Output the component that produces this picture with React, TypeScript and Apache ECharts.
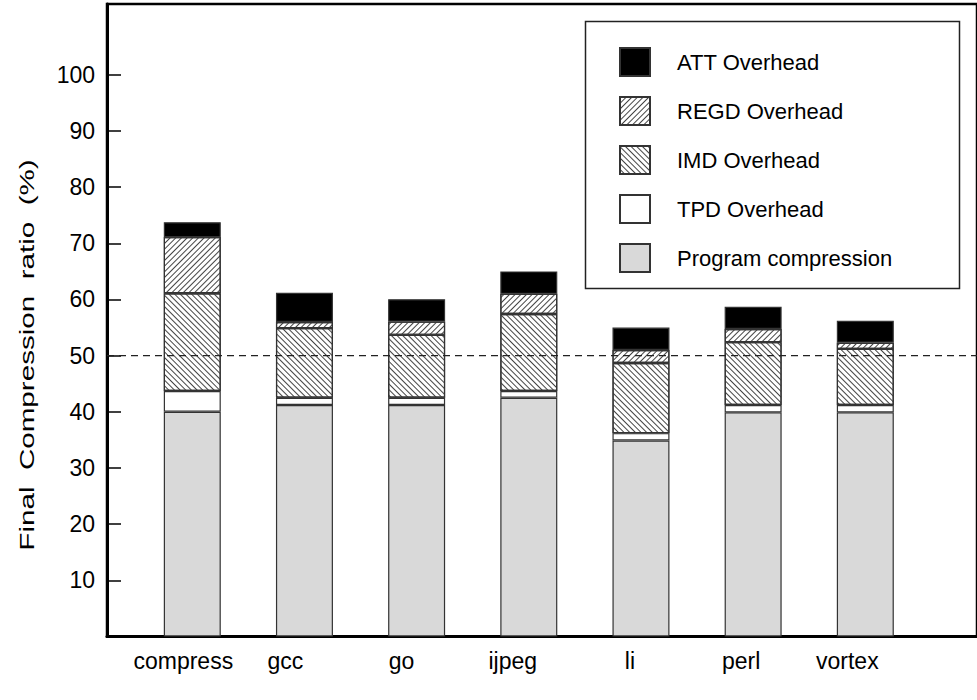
import React, { useEffect, useRef } from "react";
import * as echarts from "echarts";

const categories = ["compress", "gcc", "go", "ijpeg", "li", "perl", "vortex"];
const programCompression = [40.0, 41.2, 41.2, 42.5, 34.9, 39.9, 39.9];
const tpdOverhead = [3.7, 1.3, 1.3, 1.2, 1.3, 1.3, 1.3];
const imdOverhead = [17.4, 12.4, 11.2, 13.7, 12.5, 11.2, 10.0];
const regdOverhead = [10.0, 1.1, 2.35, 3.6, 2.3, 2.35, 1.1];
const attOverhead = [2.65, 5.2, 4.0, 4.0, 4.0, 3.95, 3.9];
const yTicks = [10, 20, 30, 40, 50, 60, 70, 80, 90, 100];
const referenceLine = 50;
const legendOrder = ["ATT Overhead", "REGD Overhead", "IMD Overhead", "TPD Overhead", "Program compression"];
const labelShift = [9, 19, 15, 16, 11, 12, 18];
const yTitle = "Final  Compression  ratio  (%)";

const FONT = "'Liberation Sans', Arial, Helvetica, sans-serif";
const Y_MAX = 112.6;

export default function App() {
  const ref = useRef<HTMLDivElement>(null);
  useEffect(() => {
    if (!ref.current) return;
    const chart = echarts.init(ref.current, undefined, { renderer: "svg" });
    const border = { borderColor: "#333", borderWidth: 1.2 };
    const rich: any = {};
    categories.forEach((c, i) => {
      rich["c" + i] = { fontSize: 23, fontFamily: FONT, color: "#000", padding: [0, labelShift[i] * 2, 0, 0] };
    });
    const hatch = (rot: number) => ({
      symbol: "rect",
      symbolSize: 1,
      dashArrayX: [1, 0],
      dashArrayY: [1, 3],
      rotation: rot,
      color: "#444",
    });
    const barCommon = {
      type: "bar",
      stack: "total",
      barWidth: 57,
      xAxisIndex: 1,
      yAxisIndex: 1,
    };
    const option: any = {
      animation: false,
      textStyle: { fontFamily: FONT },
      grid: [
        {
          left: 107,
          right: -20,
          top: 4,
          bottom: 63.5,
          show: true,
          borderColor: "#000",
          borderWidth: 2.5,
          backgroundColor: "transparent",
        },
        {
          left: 136.2,
          right: 55.6,
          top: 4,
          bottom: 63.5,
        },
      ],
      xAxis: [
        {
          gridIndex: 0,
          type: "value",
          min: 0,
          max: 1,
          axisLine: { show: true, onZero: false, lineStyle: { color: "#000", width: 3 } },
          axisTick: { show: false },
          axisLabel: { show: false },
          splitLine: { show: false },
        },
        {
          gridIndex: 1,
          type: "category",
          data: categories,
          axisLine: { show: false },
          axisTick: { show: false },
          axisLabel: {
            margin: 13,
            interval: 0,
            formatter: (v: string, i: number) => "{c" + i + "|" + v + "}",
            rich,
          },
        },
      ],
      yAxis: [
        {
          gridIndex: 0,
          type: "value",
          min: 0,
          max: Y_MAX,
          axisLine: { show: true, lineStyle: { color: "#000", width: 3 } },
          axisTick: {
            show: true,
            inside: true,
            length: 14,
            customValues: yTicks,
            lineStyle: { color: "#000", width: 1.5 },
          },
          axisLabel: {
            customValues: yTicks,
            margin: 12,
            fontSize: 23,
            color: "#000",
            fontFamily: FONT,
          },
          splitLine: { show: false },
        },
        {
          gridIndex: 1,
          type: "value",
          min: 0,
          max: Y_MAX,
          show: false,
          splitLine: { show: false },
        },
      ],
      legend: {
        orient: "vertical",
        left: 619,
        top: 47,
        padding: 0,
        itemWidth: 30,
        itemHeight: 28,
        itemGap: 19,
        icon: "rect",
        selectedMode: false,
        data: legendOrder,
        textStyle: {
          fontSize: 22,
          lineHeight: 28,
          color: "#000",
          fontFamily: FONT,
          padding: [0, 0, 0, 22],
        },
      },
      graphic: [
        {
          type: "rect",
          left: 583,
          top: 19,
          shape: { width: 374, height: 267 },
          style: { fill: "none", stroke: "#222", lineWidth: 1.5 },
          z: 10,
        },
        {
          type: "text",
          x: 27,
          y: 355,
          rotation: Math.PI / 2,
          scaleX: 1.48,
          style: {
            text: yTitle,
            fontSize: 20,
            fontFamily: FONT,
            fill: "#000",
            align: "center",
            verticalAlign: "middle",
          },
        },
      ],
      series: [
        {
          ...barCommon,
          name: "Program compression",
          data: programCompression,
          itemStyle: { color: "#d9d9d9", ...border },
        },
        {
          ...barCommon,
          name: "TPD Overhead",
          data: tpdOverhead,
          itemStyle: { color: "#ffffff", ...border },
        },
        {
          ...barCommon,
          name: "IMD Overhead",
          data: imdOverhead,
          itemStyle: { color: "#ffffff", ...border, decal: hatch(Math.PI / 4) },
        },
        {
          ...barCommon,
          name: "REGD Overhead",
          data: regdOverhead,
          itemStyle: { color: "#ffffff", ...border, decal: hatch(-Math.PI / 4) },
        },
        {
          ...barCommon,
          name: "ATT Overhead",
          data: attOverhead,
          itemStyle: { color: "#000000", ...border },
        },
        {
          name: "reference",
          type: "line",
          xAxisIndex: 0,
          yAxisIndex: 0,
          z: 10,
          symbol: "none",
          silent: true,
          data: [
            [0, referenceLine],
            [1, referenceLine],
          ],
          lineStyle: { type: [7, 5], color: "#222", width: 1.2 },
        },
      ],
    };
    chart.setOption(option);
    return () => chart.dispose();
  }, []);
  return (
    <div
      ref={ref}
      style={{ position: "fixed", left: 0, top: 0, width: 977, height: 700, background: "#fff" }}
    />
  );
}
